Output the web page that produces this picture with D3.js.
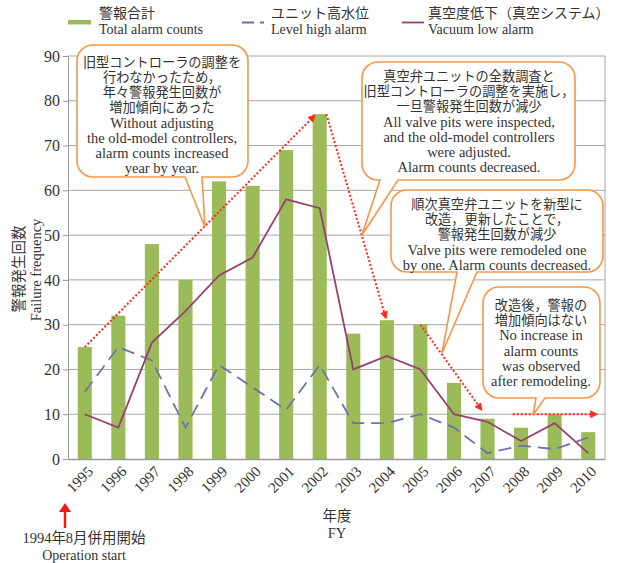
<!DOCTYPE html>
<html>
<head>
<meta charset="utf-8">
<script src="https://cdn.jsdelivr.net/npm/d3@7"></script>
<style>
  body { margin: 0; background: #fff; }
  text { font-family: "Liberation Serif", "Noto Sans CJK JP", serif; fill: #333; }
</style>
</head>
<body>
<svg id="chart" width="617" height="563"></svg>
<script>
// data
const years = ['1995','1996','1997','1998','1999','2000','2001','2002','2003','2004','2005','2006','2007','2008','2009','2010'];
const totalAlarms = [25, 32, 48, 40, 62, 61, 69, 77, 28, 31, 30, 17, 9, 7, 10, 6];
const levelHigh = [15, 25, 22, 7, 21, 16, 11, 21, 8, 8, 10, 7, 1.3, 3, 2.2, 4.8];
const vacuumLow = [10, 7, 26, 33, 41, 45, 58, 56, 20, 23, 20, 10, 8.3, 4, 8, 1.3];
const yTicks = [0, 10, 20, 30, 40, 50, 60, 70, 80, 90];

// trend arrows: [year, offset in band steps, value]
const trendArrows = [
  [['1995', 0, 25], ['2002', -0.15, 76.7]],
  [['2002', 0.2, 77], ['2004', -0.03, 31.5]],
  [['2005', 0, 30], ['2007', -0.18, 11]],
  [['2008', -0.25, 10], ['2010', 0.25, 10]]
];

const svg = d3.select('#chart');
const margin = { top: 56, right: 12, bottom: 104, left: 68 };
const W = 617, H = 563;

const x = d3.scaleBand().domain(years)
  .range([margin.left, W - margin.right])
  .paddingInner(0.58).paddingOuter(0.29);
const y = d3.scaleLinear().domain([0, 90]).range([H - margin.bottom, margin.top]);
const cx = d => x(d) + x.bandwidth() / 2;

const colBar = '#9bbb59', colLevel = '#6e72aa', colVac = '#98406f', colRed = '#ff2a1a';

// gridlines
svg.append('g').selectAll('line').data(yTicks.slice(1)).join('line')
  .attr('x1', margin.left).attr('x2', W - margin.right)
  .attr('y1', d => y(d)).attr('y2', d => y(d))
  .attr('stroke', '#a6a6a6').attr('stroke-width', 1);

// right frame
svg.append('line')
  .attr('x1', W - margin.right).attr('x2', W - margin.right)
  .attr('y1', y(90)).attr('y2', y(0))
  .attr('stroke', '#a6a6a6');

// bars
svg.append('g').selectAll('rect').data(years).join('rect')
  .attr('x', d => x(d))
  .attr('y', (d, i) => y(totalAlarms[i]))
  .attr('width', x.bandwidth())
  .attr('height', (d, i) => y(0) - y(totalAlarms[i]))
  .attr('fill', colBar);

// axes
const yAxis = svg.append('g')
  .attr('transform', `translate(${margin.left},0)`)
  .call(d3.axisLeft(y).tickValues(yTicks).tickSize(5).tickPadding(3));
yAxis.select('.domain').attr('stroke', '#999');
yAxis.selectAll('.tick line').attr('stroke', '#999');
yAxis.selectAll('text').style('font-size', '16px').attr('fill', '#333');

const xAxis = svg.append('g')
  .attr('transform', `translate(0,${y(0)})`)
  .call(d3.axisBottom(x).tickSize(0).tickSizeOuter(0));
xAxis.select('.domain').attr('stroke', '#999').attr('stroke-width', 1.5);
xAxis.selectAll('text')
  .style('font-size', '15px').attr('fill', '#333')
  .attr('text-anchor', 'end')
  .attr('x', -3).attr('y', 16).attr('dy', 0)
  .attr('transform', 'rotate(-45)');

// lines
const line = arr => d3.line().x((d, i) => cx(years[i])).y(d => y(d))(arr);
svg.append('path').attr('d', line(levelHigh))
  .attr('fill', 'none').attr('stroke', colLevel).attr('stroke-width', 1.8)
  .attr('stroke-dasharray', '13,7');
svg.append('path').attr('d', line(vacuumLow))
  .attr('fill', 'none').attr('stroke', colVac).attr('stroke-width', 1.8);

// red dotted arrows
svg.append('defs').append('marker')
  .attr('id', 'arr').attr('viewBox', '0 0 10 10')
  .attr('refX', 8).attr('refY', 5)
  .attr('markerWidth', 4).attr('markerHeight', 4)
  .attr('markerUnits', 'strokeWidth')
  .attr('orient', 'auto')
  .append('path').attr('d', 'M0,0 L10,5 L0,10 Z').attr('fill', colRed);

const px = p => cx(p[0]) + p[1] * x.step();
trendArrows.forEach(a => {
  svg.append('line')
    .attr('x1', px(a[0])).attr('y1', y(a[0][2]))
    .attr('x2', px(a[1])).attr('y2', y(a[1][2]))
    .attr('stroke', colRed).attr('stroke-width', 2)
    .attr('stroke-dasharray', '2,2')
    .attr('marker-end', 'url(#arr)');
});

// callouts
function calloutPath(x0, y0, x1, y1, r, ta, tb, tx, ty) {
  return `M${x0 + r},${y0} H${x1 - r} A${r},${r} 0 0 1 ${x1},${y0 + r}` +
    ` V${y1 - r} A${r},${r} 0 0 1 ${x1 - r},${y1} H${tb} L${tx},${ty} L${ta},${y1}` +
    ` H${x0 + r} A${r},${r} 0 0 1 ${x0},${y1 - r} V${y0 + r} A${r},${r} 0 0 1 ${x0 + r},${y0} Z`;
}

const callouts = [
  { box: [77, 45, 248, 177, 16, 185, 202, 205, 227], cx: 162, y0: 62,
    jp: ['旧型コントローラの調整を', '行わなかったため，', '年々警報発生回数が', '増加傾向にあった'],
    en: ['Without adjusting', 'the old-model controllers,', 'alarm counts increased', 'year by year.'] },
  { box: [362, 62, 575, 180, 16, 380, 398, 362, 235], cx: 469, y0: 76,
    jp: ['真空弁ユニットの全数調査と', '旧型コントローラの調整を実施し，', '一旦警報発生回数が減少'],
    en: ['All valve pits were inspected,', 'and the old-model controllers', 'were adjusted.', 'Alarm counts decreased.'] },
  { box: [391, 190, 603, 272, 16, 457, 477, 442, 353], cx: 497, y0: 204,
    jp: ['順次真空弁ユニットを新型に', '改造，更新したことで，', '警報発生回数が減少'],
    en: ['Valve pits were remodeled one', 'by one. Alarm counts decreased.'] },
  { box: [483, 287, 600, 398, 16, 536, 545, 533, 415], cx: 541, y0: 305,
    jp: ['改造後，警報の', '増加傾向はない'],
    en: ['No increase in', 'alarm counts', 'was observed', 'after remodeling.'] }
];

callouts.forEach(c => {
  svg.append('path')
    .attr('d', calloutPath(...c.box))
    .attr('fill', '#fff').attr('stroke', '#f79646').attr('stroke-width', 1.6);
  const lines = c.jp.map(t => ({ t, jp: true })).concat(c.en.map(t => ({ t, jp: false })));
  svg.append('g').selectAll('text').data(lines).join('text')
    .attr('x', c.cx).attr('y', (d, i) => c.y0 + i * 15.2)
    .attr('dy', '0.35em')
    .attr('text-anchor', 'middle')
    .style('font-size', d => d.jp ? '13.2px' : '14.5px')
    .text(d => d.t);
});

// legend
const legend = [
  { jp: '警報合計', en: 'Total alarm counts', x: 68, color: colBar, type: 'bar' },
  { jp: 'ユニット高水位', en: 'Level high alarm', x: 242, color: colLevel, type: 'dash' },
  { jp: '真空度低下（真空システム）', en: 'Vacuum low alarm', x: 402, color: colVac, type: 'line' }
];
legend.forEach(l => {
  if (l.type === 'bar') {
    svg.append('rect').attr('x', l.x).attr('y', 20).attr('width', 23).attr('height', 4.5).attr('fill', l.color);
  } else {
    svg.append('line').attr('x1', l.x).attr('x2', l.x + 22).attr('y1', 22.5).attr('y2', 22.5)
      .attr('stroke', l.color).attr('stroke-width', 1.8)
      .attr('stroke-dasharray', l.type === 'dash' ? '12,6' : null);
  }
  const tx = l.x + (l.type === 'bar' ? 31 : l.type === 'dash' ? 29 : 26);
  svg.append('text').attr('x', tx).attr('y', 18).style('font-size', '14px').text(l.jp);
  svg.append('text').attr('x', tx).attr('y', 34).style('font-size', '14px').text(l.en);
});

// y axis title
svg.append('text')
  .attr('transform', 'translate(19,269) rotate(-90)')
  .attr('dy', '0.35em')
  .attr('text-anchor', 'middle').style('font-size', '14.5px').text('警報発生回数');
svg.append('text')
  .attr('transform', 'translate(36,270) rotate(-90)')
  .attr('dy', '0.35em')
  .attr('text-anchor', 'middle').style('font-size', '14.5px').text('Failure frequency');

// x axis title
svg.append('text').attr('x', 337).attr('y', 521).attr('text-anchor', 'middle')
  .style('font-size', '14.5px').text('年度');
svg.append('text').attr('x', 337).attr('y', 538).attr('text-anchor', 'middle')
  .style('font-size', '14.5px').text('FY');

// operation start note
svg.append('line').attr('x1', 65).attr('x2', 65).attr('y1', 528).attr('y2', 510)
  .attr('stroke', '#f01c1c').attr('stroke-width', 2.5);
svg.append('path').attr('d', 'M59,512 L65,503 L71,512 Z').attr('fill', '#f01c1c');
svg.append('text').attr('x', 84).attr('y', 543).attr('text-anchor', 'middle')
  .style('font-size', '14.5px').text('1994年8月併用開始');
svg.append('text').attr('x', 84).attr('y', 560).attr('text-anchor', 'middle')
  .style('font-size', '14px').text('Operation start');
</script>
</body>
</html>
